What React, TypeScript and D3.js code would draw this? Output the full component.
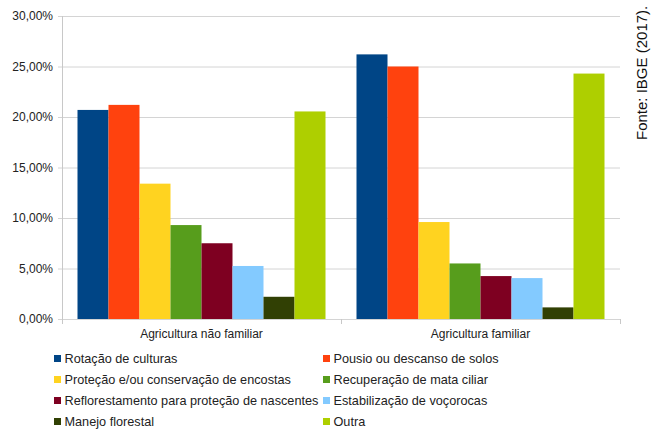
import React from "react";
import * as d3 from "d3";

// Categories (x axis groups)
const categories = ["Agricultura não familiar", "Agricultura familiar"];

// Series names (legend order) and their colours
const seriesNames = [
  "Rotação de culturas",
  "Pousio ou descanso de solos",
  "Proteção e/ou conservação de encostas",
  "Recuperação de mata ciliar",
  "Reflorestamento para proteção de nascentes",
  "Estabilização de voçorocas",
  "Manejo florestal",
  "Outra",
];
const seriesColors = [
  "#004586",
  "#ff420e",
  "#ffd320",
  "#579d1c",
  "#7e0021",
  "#83caff",
  "#314004",
  "#aecf00",
];

// Percent values per category, in series order
const naoFamiliar = [20.7, 21.2, 13.4, 9.3, 7.5, 5.25, 2.2, 20.55];
const familiar = [26.2, 25.0, 9.6, 5.5, 4.25, 4.05, 1.15, 24.3];
const values = [naoFamiliar, familiar];

const yTicks = [0, 5, 10, 15, 20, 25, 30];
const sourceNote = "Fonte: IBGE (2017).";

const W = 659;
const H = 432;
const plot = { left: 62, right: 620, top: 16, bottom: 319 };
const font = "'Liberation Sans', Arial, sans-serif";

const fmt = (v: number) => v.toFixed(2).replace(".", ",") + "%";

export default function App() {
  const x0 = d3
    .scaleBand<string>()
    .domain(categories)
    .range([plot.left, plot.right])
    .paddingInner(0)
    .paddingOuter(0);
  const bandW = x0.bandwidth();
  const inner = 15.5;
  const x1 = d3
    .scaleBand<number>()
    .domain(d3.range(seriesNames.length))
    .range([inner, bandW - inner])
    .padding(0);
  const y = d3.scaleLinear().domain([0, 30]).range([plot.bottom, plot.top]);

  const catEdges = [plot.left, ...categories.map((c) => (x0(c) as number) + bandW)];

  return (
    <svg
      width={W}
      height={H}
      style={{ position: "absolute", left: 0, top: 0, background: "#fff" }}
      fontFamily={font}
    >
      {/* horizontal grid + y ticks */}
      {yTicks.map((t) => (
        <g key={t}>
          <line
            x1={plot.left - 4}
            x2={plot.right}
            y1={y(t) + 0.5}
            y2={y(t) + 0.5}
            stroke="#d4d4d4"
            strokeWidth={1}
          />
          <text
            x={plot.left - 9}
            y={y(t)}
            dy="0.35em"
            textAnchor="end"
            fontSize={12}
            fill="#222"
          >
            {fmt(t)}
          </text>
        </g>
      ))}
      {/* y axis line */}
      <line
        x1={plot.left + 0.5}
        x2={plot.left + 0.5}
        y1={plot.top}
        y2={plot.bottom + 4}
        stroke="#c8c8c8"
      />
      {/* category boundary ticks */}
      {catEdges.map((e, i) => (
        <line
          key={i}
          x1={e + 0.5}
          x2={e + 0.5}
          y1={plot.bottom}
          y2={plot.bottom + 5}
          stroke="#c8c8c8"
        />
      ))}
      {/* bars */}
      {categories.map((c, ci) => (
        <g key={c} transform={`translate(${x0(c)},0)`}>
          {values[ci].map((v, si) => (
            <rect
              key={si}
              x={x1(si) as number}
              y={y(v)}
              width={x1.bandwidth()}
              height={y(0) - y(v)}
              fill={seriesColors[si]}
            />
          ))}
          <text
            x={bandW / 2}
            y={plot.bottom + 19}
            textAnchor="middle"
            fontSize={12}
            fill="#222"
          >
            {c}
          </text>
        </g>
      ))}
      {/* legend */}
      {seriesNames.map((name, i) => {
        const col = i % 2;
        const row = Math.floor(i / 2);
        const lx = col === 0 ? 54 : 323;
        const ly = 359 + row * 21;
        return (
          <g key={name}>
            <rect x={lx} y={ly - 4} width={7} height={7} fill={seriesColors[i]} />
            <text x={lx + 10.5} y={ly} dy="0.35em" fontSize={12.7} fill="#222">
              {name}
            </text>
          </g>
        );
      })}
      {/* source note */}
      <text
        transform="translate(647,140) rotate(-90)"
        fontSize={15}
        fill="#111"
      >
        {sourceNote}
      </text>
    </svg>
  );
}
